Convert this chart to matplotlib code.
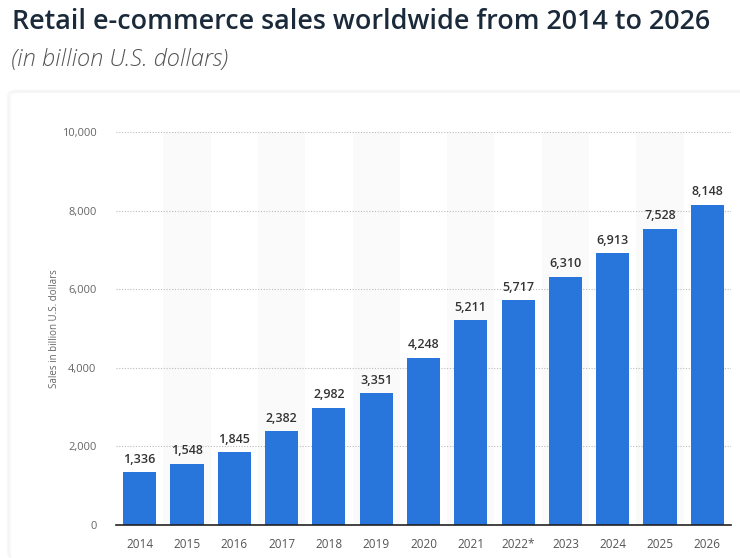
import matplotlib.pyplot as plt
from matplotlib.patches import FancyBboxPatch

years = ["2014", "2015", "2016", "2017", "2018", "2019", "2020",
         "2021", "2022*", "2023", "2024", "2025", "2026"]
sales = [1336, 1548, 1845, 2382, 2982, 3351, 4248,
         5211, 5717, 6310, 6913, 7528, 8148]
y_ticks = [0, 2000, 4000, 6000, 8000, 10000]

plt.rcParams['font.family'] = ['Open Sans', 'DejaVu Sans']

fig = plt.figure(figsize=(7.4, 5.58), dpi=100)
fig.patch.set_facecolor("white")

# card behind the chart, with a faint shadow
for i, a in enumerate([0.015, 0.02, 0.03]):
    fig.patches.append(FancyBboxPatch((11 / 740 - i * 0.002, 0.0), 1.1, (558 - 93) / 558 + i * 0.002,
                                      boxstyle="round,pad=0,rounding_size=0.01",
                                      transform=fig.transFigure, facecolor="none",
                                      edgecolor=(0, 0, 0, a), linewidth=1.5, zorder=0))
fig.patches.append(FancyBboxPatch((11 / 740, -0.05), 1.1, (558 - 93) / 558 + 0.05,
                                  boxstyle="round,pad=0,rounding_size=0.01",
                                  transform=fig.transFigure, facecolor="white",
                                  edgecolor="none", zorder=0))

fig.text(12 / 740, 1 - 22 / 558, "Retail e-commerce sales worldwide from 2014 to 2026",
         fontsize=19.4, fontweight="semibold", color="#1b2a3a", va="center", ha="left")
fig.text(11 / 740, 1 - 60 / 558, "(in billion U.S. dollars)",
         fontsize=17, style="italic", fontweight="light", color="#555555",
         va="center", ha="left")

ax = fig.add_axes([116 / 740, 33 / 558, 615 / 740, (525 - 132) / 558])
ax.set_zorder(2)
ax.set_facecolor("none")
x = list(range(len(years)))

for i in x:
    if i % 2 == 1:
        ax.axvspan(i - 0.5, i + 0.5, color="#fafafa", zorder=0, linewidth=0)

for t in y_ticks[1:]:
    ax.axhline(t, color="#bbbbbb", linestyle=(0, (1, 1.5)), linewidth=0.8, zorder=1)

bars = ax.bar(x, sales, width=0.7, color="#2875dc", zorder=2)
for xi, v in zip(x, sales):
    ax.text(xi, v + 170, f"{v:,}", ha="center", va="bottom", fontsize=9,
            fontweight="semibold", color="#333333", zorder=3)

ax.set_xlim(-0.5, len(years) - 0.5)
ax.set_ylim(0, 10000)
ax.set_xticks(x)
ax.set_xticklabels(years, fontsize=8.5, color="#555555")
ax.set_yticks(y_ticks)
ax.set_yticklabels([f"{t:,}" for t in y_ticks], fontsize=8, color="#666666")
ax.tick_params(axis="both", length=0)
ax.tick_params(axis="x", pad=9)
ax.tick_params(axis="y", pad=14)
for s in ["top", "right", "left"]:
    ax.spines[s].set_visible(False)
ax.spines["bottom"].set_color("#222222")
ax.spines["bottom"].set_linewidth(1.2)
ax.spines["bottom"].set_zorder(4)
ax.set_ylabel("Sales in billion U.S. dollars", fontsize=7, color="#666666", labelpad=1)

fig.savefig("out.png", dpi=100)
